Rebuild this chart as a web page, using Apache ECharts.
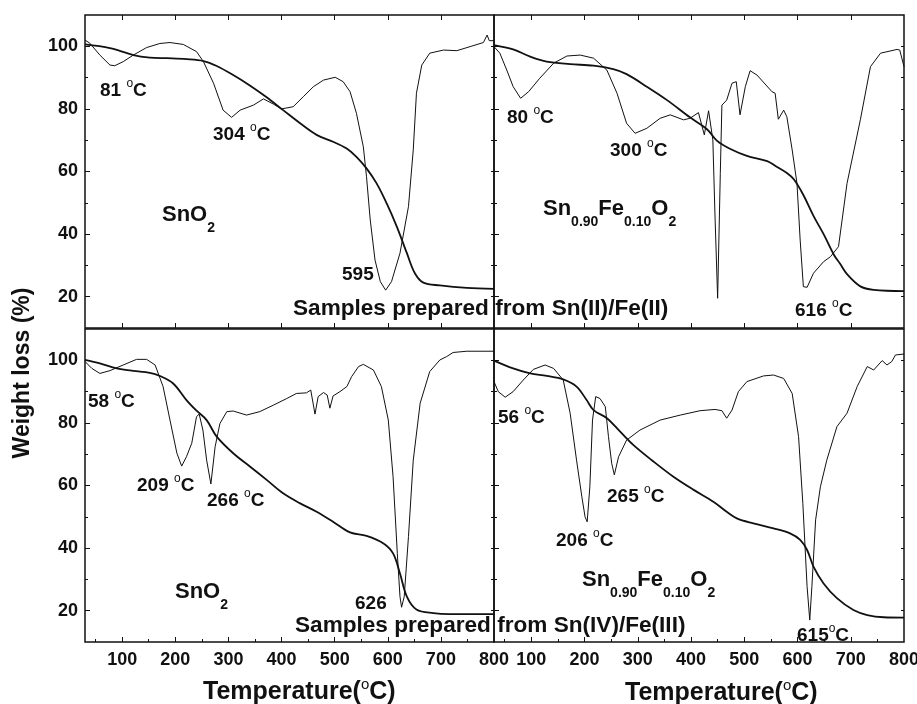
<!DOCTYPE html>
<html>
<head>
<meta charset="utf-8">
<script src="https://cdn.jsdelivr.net/npm/echarts@6/dist/echarts.min.js"></script>
<style>html,body{margin:0;padding:0;background:#fff}#c{width:917px;height:704px}</style>
</head>
<body>
<div id="c"></div>
<script>
// ---------- data (temperature °C, weight / signal %) ----------
const xTickLabels = [100, 200, 300, 400, 500, 600, 700, 800];
const xMajorTicks = [100, 200, 300, 400, 500, 600, 700];
const xMinorTicks = [50, 150, 250, 350, 450, 550, 650, 750];
const yTickLabels = [20, 40, 60, 80, 100];
const yMajorTicks = [20, 40, 60, 80, 100];
const yMinorTicks = [30, 50, 70, 90];
const yAllTicks = [20, 30, 40, 50, 60, 70, 80, 90, 100];

// Top-left: SnO2, Sn(II)/Fe(II)
const tgaTL = [[30,100.6],[77,99.4],[121,97.2],[152,96.4],[184,96.2],[221,95.9],[253,95.3],[278,93.7],[309,90.8],[341,87.4],[372,83.7],[403,79.6],[435,75.4],[466,71.7],[497,69.5],[522,67.4],[541,64.7],[560,61.0],[579,56.2],[598,49.8],[617,42.4],[636,33.9],[651,27.5],[667,24.5],[698,23.6],[749,22.8],[800,22.5]];
const dtaTL = [[30,102],[39,101],[58,97.2],[77,94.0],[86,93.8],[102,95.1],[121,97.2],[146,99.6],[171,100.9],[190,101.2],[215,100.6],[240,98.3],[253,95.1],[272,88.2],[290,79.6],[306,77.3],[322,79.6],[347,81.2],[366,83.2],[385,81.5],[400,80.0],[422,80.7],[441,83.9],[460,87.1],[479,89.2],[501,90.1],[516,88.7],[529,85.5],[541,78.6],[554,67.9],[560,58.3],[567,44.5],[576,31.7],[586,24.8],[596,22.1],[607,24.8],[623,33.9],[639,48.8],[648,66.9],[654,85.0],[664,94.0],[679,97.8],[705,98.8],[730,98.6],[755,99.9],[780,101.2],[787,103.6],[791,101.8],[800,101.8]];

// Top-right: Sn0.90Fe0.10O2, Sn(II)/Fe(II)
const tgaTR = [[30,100.4],[66,99.0],[98,96.7],[129,95.1],[173,94.3],[217,93.8],[254,92.7],[279,91.1],[317,87.1],[355,82.8],[398,77.3],[430,73.5],[449,69.8],[474,67.2],[505,65.0],[543,63.3],[561,61.5],[580,59.5],[593,57.5],[611,52.5],[630,45.8],[649,40.0],[668,33.5],[680,30.5],[693,27.2],[718,23.3],[743,22.2],[800,21.8]];
const dtaTR = [[30,99.9],[41,97.8],[54,92.4],[66,87.1],[80,83.4],[95,85.5],[116,89.8],[142,94.6],[167,96.9],[192,97.2],[217,96.2],[242,92.4],[261,85.0],[279,75.4],[295,72.2],[317,73.8],[342,77.0],[361,78.1],[386,76.5],[398,77.0],[414,78.8],[425,71.7],[433,79.4],[441,70.1],[445,46.1],[450,19.5],[455,59.4],[458,81.2],[467,82.8],[477,88.2],[485,88.7],[492,78.1],[502,87.1],[511,92.2],[524,90.8],[552,85.5],[558,85.0],[564,76.7],[574,79.6],[580,77.5],[590,66.9],[599,56.2],[605,38.1],[611,23.2],[618,23.0],[630,27.5],[649,31.2],[662,32.8],[677,36.0],[693,56.2],[718,76.5],[737,93.5],[756,97.8],[787,99.0],[792,98.8],[800,93.5]];

// Bottom-left: SnO2, Sn(IV)/Fe(III)
const tgaBL = [[30,100.1],[58,99.0],[90,97.4],[121,96.6],[152,96.0],[171,95.0],[196,92.6],[221,87.3],[240,83.9],[259,80.9],[278,75.6],[309,70.3],[341,66.0],[372,61.8],[403,57.5],[435,54.3],[466,51.6],[497,48.4],[529,45.0],[560,43.9],[592,41.5],[610,38.3],[623,31.9],[636,24.5],[654,20.4],[686,19.2],[717,18.9],[800,18.9]];
const dtaBL = [[30,99.6],[43,97.4],[58,95.8],[77,96.7],[102,98.5],[127,100.3],[146,100.3],[162,98.5],[177,91.6],[190,80.9],[203,70.3],[212,66.2],[221,69.2],[231,73.5],[240,82.0],[245,82.8],[252,77.7],[259,68.1],[267,60.5],[275,72.4],[284,79.8],[297,83.6],[309,83.8],[334,82.5],[359,83.6],[385,85.7],[410,87.8],[428,89.4],[447,89.6],[455,90.5],[463,82.8],[469,88.4],[479,89.7],[486,88.9],[491,84.7],[497,88.6],[510,90.0],[523,91.6],[532,94.8],[545,98.0],[554,98.7],[573,96.9],[588,91.6],[601,80.9],[610,62.8],[618,38.3],[623,24.5],[626,21.1],[631,24.5],[639,43.7],[648,68.1],[661,86.3],[679,96.4],[698,100.1],[711,101.2],[723,102.5],[749,102.9],[800,102.9]];

// Bottom-right: Sn0.90Fe0.10O2, Sn(IV)/Fe(III)
const tgaBR = [[30,99.9],[66,97.4],[98,95.8],[129,95.0],[160,93.9],[185,91.6],[204,87.3],[217,84.1],[242,81.5],[267,77.2],[292,72.9],[330,67.6],[367,62.8],[405,58.6],[442,54.8],[467,51.6],[486,49.5],[517,47.9],[555,46.3],[586,44.7],[605,42.6],[618,39.4],[630,34.1],[649,28.7],[674,24.0],[705,20.2],[731,18.6],[762,17.9],[800,17.8]];
const dtaBR = [[30,93.2],[38,90.0],[51,88.2],[66,90.0],[85,93.7],[104,97.1],[126,98.5],[142,97.4],[160,93.7],[173,83.1],[185,68.1],[195,56.4],[201,50.0],[205,48.4],[210,59.6],[215,80.9],[221,88.4],[229,87.8],[239,85.2],[245,75.6],[251,67.1],[256,63.4],[264,69.2],[279,74.5],[304,77.7],[342,80.9],[380,82.5],[417,83.9],[445,84.3],[458,83.9],[467,81.5],[477,84.1],[489,90.0],[505,93.2],[536,95.0],[555,95.3],[574,94.2],[590,89.4],[602,75.6],[610,54.3],[618,27.7],[623,17.0],[627,27.7],[634,49.0],[643,59.6],[655,68.1],[674,78.8],[693,83.1],[712,91.6],[731,98.0],[743,96.9],[759,99.9],[768,98.5],[777,99.6],[784,101.7],[800,102.0]];

const panels = [
  {tga: tgaTL, dta: dtaTL},
  {tga: tgaTR, dta: dtaTR},
  {tga: tgaBL, dta: dtaBL},
  {tga: tgaBR, dta: dtaBR}
];

// ---------- chart ----------
const FONT = "'Liberation Sans', Arial, Helvetica, sans-serif";
const INK = '#111';
const grids = [
  {left: 85, top: 15, width: 409, height: 313},
  {left: 494, top: 15, width: 410, height: 313},
  {left: 85, top: 329, width: 409, height: 313},
  {left: 494, top: 329, width: 410, height: 313}
];

const xAxes = [], yAxes = [], series = [];
function xAx(i, pos, ticks, len, labels) {
  xAxes.push({
    type: 'value', gridIndex: i, position: pos, min: 30, max: 800,
    axisLine: {show: false}, splitLine: {show: false},
    axisTick: {show: true, inside: true, length: len, customValues: ticks, lineStyle: {color: INK, width: 1}},
    axisLabel: {show: !!labels, customValues: xTickLabels, margin: 9,
      fontSize: 18, fontWeight: 'bold', fontFamily: FONT, color: INK}
  });
  return xAxes.length - 1;
}
function yAx(i, pos, ticks, len, labels) {
  yAxes.push({
    type: 'value', gridIndex: i, position: pos, min: 10, max: 110,
    axisLine: {show: false}, splitLine: {show: false},
    axisTick: {show: true, inside: true, length: len, customValues: ticks, lineStyle: {color: INK, width: 1}},
    axisLabel: {show: !!labels, customValues: yTickLabels, margin: 7,
      fontSize: 18, fontWeight: 'bold', fontFamily: FONT, color: INK}
  });
  return yAxes.length - 1;
}
grids.forEach((g, i) => {
  const bottomRow = i >= 2, leftCol = (i % 2 === 0);
  const xi = xAx(i, 'bottom', xMajorTicks, 5, bottomRow);
  if (bottomRow) xAx(i, 'bottom', xMinorTicks, 3, false);
  else xAx(i, 'top', xMajorTicks, 5, false);
  const yi = yAx(i, 'left', yMajorTicks, 5, leftCol);
  yAx(i, 'left', yMinorTicks, 3, false);
  yAx(i, 'right', yAllTicks, 3, false);
  series.push({
    type: 'line', xAxisIndex: xi, yAxisIndex: yi, data: panels[i].tga,
    showSymbol: false, smooth: 0.35, lineStyle: {color: INK, width: 1.8}, silent: true
  });
  series.push({
    type: 'line', xAxisIndex: xi, yAxisIndex: yi, data: panels[i].dta,
    showSymbol: false, smooth: false, lineStyle: {color: INK, width: 1}, silent: true
  });
});

const rich = {
  n: {fontSize: 19, fontWeight: 'bold', fontFamily: FONT, color: INK, lineHeight: 22, verticalAlign: 'bottom'},
  o: {fontSize: 12, fontFamily: FONT, color: INK, lineHeight: 12, verticalAlign: 'top'},
  b: {fontSize: 22, fontWeight: 'bold', fontFamily: FONT, color: INK, lineHeight: 24, verticalAlign: 'top'},
  s: {fontSize: 14, fontWeight: 'bold', fontFamily: FONT, color: INK, lineHeight: 31, verticalAlign: 'bottom'},
  p: {fontSize: 22.6, fontWeight: 'bold', fontFamily: FONT, color: INK, lineHeight: 24, verticalAlign: 'top'},
  t: {fontSize: 25, fontWeight: 'bold', fontFamily: FONT, color: INK, lineHeight: 28, verticalAlign: 'bottom'},
  to: {fontSize: 15, fontFamily: FONT, color: INK, lineHeight: 15, verticalAlign: 'top'}
};
function txt(x, y, text) {
  return {type: 'text', x: x, y: y, z: 100,
    style: {text: text, rich: rich, align: 'left', verticalAlign: 'top', fill: INK}};
}
const graphics = [
  txt(100, 78, '{n|81 }{o|o}{n|C}'),
  txt(213, 122, '{n|304 }{o|o}{n|C}'),
  txt(162, 204, '{b|SnO}{s|2}'),
  txt(342, 262, '{n|595}'),
  txt(293, 297, '{p|Samples prepared from Sn(II)/Fe(II)}'),
  txt(507, 105, '{n|80 }{o|o}{n|C}'),
  txt(610, 138, '{n|300 }{o|o}{n|C}'),
  txt(543, 198, '{b|Sn}{s|0.90}{b|Fe}{s|0.10}{b|O}{s|2}'),
  txt(795, 298, '{n|616 }{o|o}{n|C}'),
  txt(88, 389, '{n|58 }{o|o}{n|C}'),
  txt(137, 473, '{n|209 }{o|o}{n|C}'),
  txt(207, 488, '{n|266 }{o|o}{n|C}'),
  txt(175, 581, '{b|SnO}{s|2}'),
  txt(355, 591, '{n|626}'),
  txt(295, 614, '{p|Samples prepared from Sn(IV)/Fe(III)}'),
  txt(498, 405, '{n|56 }{o|o}{n|C}'),
  txt(556, 528, '{n|206 }{o|o}{n|C}'),
  txt(607, 484, '{n|265 }{o|o}{n|C}'),
  txt(582, 569, '{b|Sn}{s|0.90}{b|Fe}{s|0.10}{b|O}{s|2}'),
  txt(797, 623, '{n|615}{o|o}{n|C}'),
  txt(203, 677, '{t|Temperature(}{to|o}{t|C)}'),
  txt(625, 678, '{t|Temperature(}{to|o}{t|C)}'),
  {type: 'text', x: 23, y: 373, rotation: Math.PI / 2, z: 100,
    style: {text: 'Weight loss (%)', fontSize: 23, fontWeight: 'bold', fontFamily: FONT,
      fill: INK, align: 'center', verticalAlign: 'middle'}}
];

const chart = echarts.init(document.getElementById('c'), null, {renderer: 'canvas'});
chart.setOption({
  animation: false,
  backgroundColor: '#fff',
  grid: grids.map(g => Object.assign({show: true, borderColor: INK, borderWidth: 1.5,
    backgroundColor: 'transparent', containLabel: false, outerBoundsMode: 'none'}, g)),
  xAxis: xAxes,
  yAxis: yAxes,
  series: series,
  graphic: graphics
});
</script>
</body>
</html>
